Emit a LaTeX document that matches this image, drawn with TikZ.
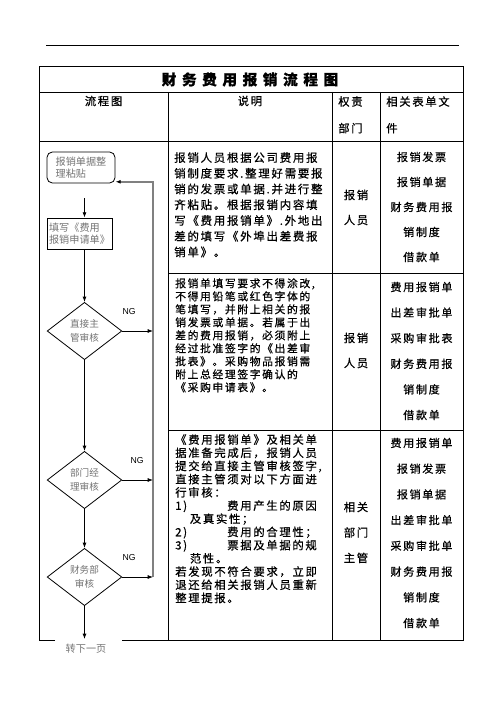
\documentclass[tikz,border=0pt]{standalone}
\usepackage{fontspec}
\setmainfont{Noto Sans CJK SC}
\setsansfont{Liberation Sans}
\newfontfamily\kai[LetterSpace=15, FakeBold=0.6]{Noto Sans CJK SC}
\usetikzlibrary{shapes.geometric,arrows.meta}
\tikzset{
  kuang/.style={draw, line width=0.6pt, text=black!55, align=left, inner sep=0pt,
    font=\fontsize{7.6}{9}\selectfont},
  lingxing/.style={diamond, draw, line width=0.6pt, text=black!55, align=center, inner sep=0pt,
    minimum width=56pt, minimum height=43pt, font=\fontsize{7.2}{10.5}\selectfont},
  jiantou/.style={line width=0.6pt, -{Latex[length=4pt,width=3pt]}},
  fanhui/.style={draw=black!50, line width=1.5pt},
  ng/.style={font=\sffamily\fontsize{6.5}{7}\selectfont},
  shuoming/.style={anchor=north west, align=left, inner sep=0pt},
  biaodan/.style={align=center, inner sep=0pt},
}
\begin{document}
\begin{tikzpicture}[x=0.75pt, y=-0.75pt]
\useasboundingbox (0,0) rectangle (496,702);
% page rule
\draw[line width=0.6pt] (46,45) -- (459,45);
% table frame
\draw[line width=0.7pt] (55,640) -- (39,640) -- (39,66) -- (463,66) -- (463,640) -- (122,640);
\draw[line width=0.7pt] (39,92) -- (463,92);
\draw[line width=0.7pt] (39,141) -- (463,141);
\draw[line width=0.7pt] (168,273) -- (463,273);
\draw[line width=0.7pt] (168,430) -- (463,430);
\draw[line width=0.7pt] (168,92) -- (168,640);
\draw[line width=0.7pt] (332,92) -- (332,640);
\draw[line width=0.7pt] (380,92) -- (380,640);
% title and header
\node [font=\kai\bfseries\fontsize{11}{12}\selectfont] (biaoti) at (250,79.5) {财 务 费 用 报 销 流 程 图};
\node [font=\kai\fontsize{8.5}{10}\selectfont] (h1) at (103.5,101) {流程图};
\node [font=\kai\fontsize{8.5}{10}\selectfont] (h2) at (250,101) {说明};
\node [shuoming, font=\kai\fontsize{8.5}{20}\selectfont] (h3) at (338,96) {权责\\部门};
\node [shuoming, font=\kai\fontsize{8.5}{20}\selectfont] (h4) at (386,96) {相关表单文\\件};
% flow chart
\node [kuang, rounded corners=4pt, minimum width=51pt, minimum height=23.25pt] (b1) at (81,167.5) {报销单据整\\理粘贴};
\node [kuang, minimum width=48.75pt, minimum height=23.25pt] (b2) at (79.5,233.5) {填写《费用\\报销申请单》};
\node [lingxing] (d1) at (84.5,331) {直接主\\管审核};
\node [lingxing] (d2) at (84.5,480) {部门经\\理审核};
\node [lingxing] (d3) at (84.5,577) {财务部\\审核};
\coordinate (r1) at (153,331);
\coordinate (r2) at (153,480);
\coordinate (r3) at (153,577);
\coordinate (jieshu) at (84.5,639);
\draw[jiantou, shorten <=11pt] (b1.south -| d1.north) -- (b2.north -| d1.north);
\draw[jiantou] (b2.south -| d1.north) -- (d1.north);
\draw[jiantou] (d1.south) -- (d2.north);
\draw[jiantou] (d2.south) -- (d3.north);
\draw[jiantou] (d3.south) -- (jieshu);
\draw[fanhui, -{Latex[length=4pt,width=3pt,color=black]}] (r3) |- ([yshift=1.2pt]b1.south east);
\draw[jiantou] (d1.east) -- (r1);
\draw[jiantou] (d2.east) -- (r2);
\draw[jiantou] (d3.east) -- (r3);
\node [ng] (ng1) at (129,312) {NG};
\node [ng] (ng2) at (137,461) {NG};
\node [ng] (ng3) at (129,558) {NG};
\node [text=black!55, font=\fontsize{7.6}{9}\selectfont] (zhuan) at (86,649) {转下一页};
% row 1
\node [shuoming, font=\kai\fontsize{8.6}{11.8}\selectfont] (sm1) at (174,152) {报销人员根据公司费用报\\销制度要求.整理好需要报\\销的发票或单据.并进行整\\齐粘贴。根据报销内容填\\写《费用报销单》.外地出\\差的填写《外埠出差费报\\销单》。};
\node [biaodan, font=\kai\fontsize{8.5}{18.75}\selectfont] (bm1) at (356,207.5) {报销\\人员};
\node [biaodan, font=\kai\fontsize{8.3}{18.75}\selectfont] (bd1) at (421.5,207) {报销发票\\报销单据\\财务费用报\\销制度\\借款单};
% row 2
\node [shuoming, font=\kai\fontsize{8.1}{9.75}\selectfont] (sm2) at (175,278) {报销单填写要求不得涂改,\\不得用铅笔或红色字体的\\笔填写，并附上相关的报\\销发票或单据。若属于出\\差的费用报销，必须附上\\经过批准签字的《出差审\\批表》。采购物品报销需\\附上总经理签字确认的\\《采购申请表》。};
\node [biaodan, font=\kai\fontsize{8.5}{18.75}\selectfont] (bm2) at (356,350.5) {报销\\人员};
\node [biaodan, font=\kai\fontsize{8.3}{19.2}\selectfont] (bd2) at (421.5,351) {费用报销单\\出差审批单\\采购审批表\\财务费用报\\销制度\\借款单};
% row 3
\node [shuoming, font=\kai\fontsize{8.5}{9.9}\selectfont] (sm3) at (175,434) {《费用报销单》及相关单\\据准备完成后，报销人员\\提交给直接主管审核签字,\\直接主管须对以下方面进\\行审核：\\\makebox[39pt][l]{1)}费用产生的原因\\\hspace*{11pt}及真实性；\\\makebox[39pt][l]{2)}费用的合理性；\\\makebox[39pt][l]{3)}票据及单据的规\\\hspace*{11pt}范性。\\若发现不符合要求，立即\\退还给相关报销人员重新\\整理提报。};
\node [biaodan, font=\kai\fontsize{8.5}{19.1}\selectfont] (bm3) at (356,532.5) {相关\\部门\\主管};
\node [biaodan, font=\kai\fontsize{8.3}{19.3}\selectfont] (bd3) at (421.5,533) {费用报销单\\报销发票\\报销单据\\出差审批单\\采购审批单\\财务费用报\\销制度\\借款单};
\end{tikzpicture}
\end{document}
